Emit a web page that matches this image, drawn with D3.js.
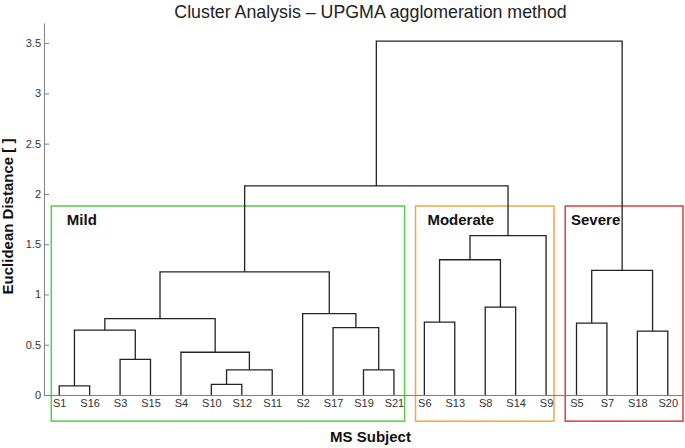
<html>

<head>
  <script src="https://d3js.org/d3.v7.min.js"></script>
  <style>
    body { margin: 0; background: #fff; }
    text { font-family: "Liberation Sans", Arial, sans-serif; }
  </style>
</head>

<body>
  <svg id="dendro" width="685" height="448"></svg>
  <script>

    // leaf order along the x axis
    const leaves = ["S1", "S16", "S3", "S15", "S4", "S10", "S12", "S11", "S2", "S17", "S19", "S21",
      "S6", "S13", "S8", "S14", "S9", "S5", "S7", "S18", "S20"];

    // merges: [left child, right child, distance]; "M<i>" refers to the i-th merge
    const merges = [
      ["S1", "S16", 0.09],    // M0
      ["S10", "S12", 0.105],  // M1
      ["M1", "S11", 0.25],    // M2
      ["S19", "S21", 0.25],   // M3
      ["S3", "S15", 0.355],   // M4
      ["S4", "M2", 0.425],    // M5
      ["M0", "M4", 0.645],    // M6
      ["S18", "S20", 0.635],  // M7
      ["S17", "M3", 0.67],    // M8
      ["S5", "S7", 0.715],    // M9
      ["S6", "S13", 0.725],   // M10
      ["M6", "M5", 0.76],     // M11
      ["S2", "M8", 0.81],     // M12
      ["S8", "S14", 0.875],   // M13
      ["M11", "M12", 1.225],  // M14
      ["M9", "M7", 1.24],     // M15
      ["M10", "M13", 1.345],  // M16
      ["M16", "S9", 1.585],   // M17
      ["M14", "M17", 2.08],   // M18
      ["M18", "M15", 3.52]    // M19
    ];

    const yTicks = [0, 0.5, 1, 1.5, 2, 2.5, 3, 3.5];

    const clusterNames = ["Mild", "Moderate", "Severe"];
    const clusterFirst = ["S1", "S6", "S5"];
    const clusterLast = ["S21", "S9", "S20"];
    const clusterColors = ["#55cc4a", "#f2a93b", "#e03c3c"];

    const svg = d3.select("#dendro");
    const x0 = 44, x1 = 683, yBottom = 395, yTop = 23;

    const x = d3.scalePoint().domain(leaves).range([x0, x1]).padding(0.5);
    const y = d3.scaleLinear().domain([0, 3.7]).range([yBottom, yTop]);
    const step = x.step();

    // node positions: leaves at distance 0, merges at the mean of child x
    const pos = {};
    leaves.forEach(l => pos[l] = { x: x(l), h: 0 });
    merges.forEach((m, i) => {
      const a = pos[m[0]], b = pos[m[1]];
      pos["M" + i] = { x: (a.x + b.x) / 2, h: m[2], a: a, b: b };
    });

    // cluster boxes
    const boxPad = [[-0.26, 0.35], [-0.29, 0.26], [-0.37, 0.5]];
    const boxTop = 1.88, boxBottom = -0.26;
    const labelDx = [0.25, 0.1, -0.18];

    clusterNames.forEach((name, i) => {
      const left = x(clusterFirst[i]) + boxPad[i][0] * step;
      const right = x(clusterLast[i]) + boxPad[i][1] * step;
      svg.append("rect")
        .attr("x", left).attr("y", y(boxTop))
        .attr("width", right - left).attr("height", y(boxBottom) - y(boxTop))
        .attr("fill", "none")
        .attr("stroke", clusterColors[i])
        .attr("stroke-width", 1.5);
      svg.append("text")
        .attr("x", x(clusterFirst[i]) + labelDx[i] * step)
        .attr("y", y(boxTop) + 19)
        .attr("font-size", "15px")
        .attr("font-weight", "bold")
        .attr("fill", "#111")
        .text(name);
    });

    // dendrogram links
    svg.append("g").selectAll("path").data(merges.map((m, i) => pos["M" + i]))
      .join("path")
      .attr("fill", "none")
      .attr("stroke", "#222")
      .attr("stroke-width", 1.3)
      .attr("d", d => "M" + d.a.x + "," + y(d.a.h) + "V" + y(d.h) + "H" + d.b.x + "V" + y(d.b.h));

    // axes
    const xAxis = svg.append("g")
      .attr("transform", "translate(0," + yBottom + ")")
      .call(d3.axisBottom(x).tickSize(0).tickPadding(4.5).tickSizeOuter(0));

    const yAxis = svg.append("g")
      .attr("transform", "translate(" + x0 + ",0)")
      .call(d3.axisLeft(y).tickValues(yTicks).tickFormat(d3.format("~g"))
        .tickSizeInner(-5).tickSizeOuter(0).tickPadding(3));

    [xAxis, yAxis].forEach(g => {
      g.select(".domain").attr("stroke", "#808080");
      g.selectAll(".tick line").attr("stroke", "#808080");
      g.selectAll(".tick text")
        .attr("font-family", "'Liberation Sans', Arial, sans-serif")
        .attr("font-size", "11px")
        .attr("fill", "#333");
    });

    // titles
    svg.append("text")
      .attr("x", 370.5).attr("y", 18)
      .attr("text-anchor", "middle")
      .attr("font-size", "17.8px")
      .attr("fill", "#222")
      .text("Cluster Analysis \u2013 UPGMA agglomeration method");

    svg.append("text")
      .attr("x", 370.5).attr("y", 442)
      .attr("text-anchor", "middle")
      .attr("font-size", "15px")
      .attr("font-weight", "bold")
      .attr("fill", "#111")
      .text("MS Subject");

    svg.append("text")
      .attr("transform", "translate(13,216.5) rotate(-90)")
      .attr("text-anchor", "middle")
      .attr("font-size", "15px")
      .attr("font-weight", "bold")
      .attr("fill", "#111")
      .text("Euclidean Distance [ ]");

  </script>
</body>

</html>
